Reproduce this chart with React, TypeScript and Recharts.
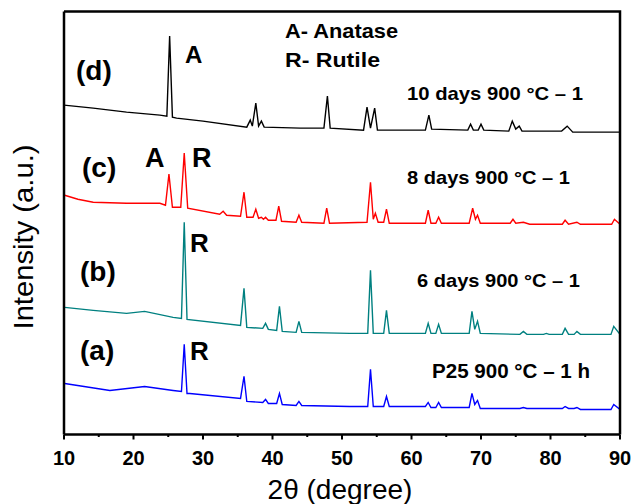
import React from "react";
import { LineChart, Line, XAxis, YAxis } from "recharts";

// 2θ (degree), intensity (a.u.); each trace is offset vertically
const sampleD: [number, number][] = [
  [10.0, 334], [14.2, 331], [19.0, 327], [23.8, 324], [24.8, 323], [25.2, 403], [25.6, 322],
  [26.2, 321], [30.0, 318], [36.3, 312], [36.8, 319], [37.1, 313], [37.6, 336], [38.0, 313],
  [38.4, 318], [38.8, 312], [44.0, 311], [47.4, 311], [47.9, 343], [48.3, 311], [53.1, 309],
  [53.6, 332], [54.1, 311], [54.7, 331], [55.1, 309], [62.0, 309], [62.5, 324], [62.9, 310],
  [68.1, 309], [68.5, 315], [68.9, 309], [69.6, 309], [70.0, 315], [70.4, 309], [74.0, 308],
  [74.5, 318], [75.0, 310], [75.5, 313], [75.9, 308], [81.6, 308], [82.4, 313], [83.2, 307],
  [90.0, 307],
];

const sampleC: [number, number][] = [
  [10.1, 244], [12.0, 240], [14.2, 237], [19.0, 236], [23.8, 236], [24.6, 234], [25.1, 265],
  [25.6, 232], [26.8, 232], [27.3, 286], [27.8, 231], [32.4, 225], [32.9, 228], [33.4, 224],
  [35.4, 223], [35.9, 247], [36.3, 222], [37.2, 222], [37.6, 230], [38.0, 221], [38.4, 222],
  [38.7, 220], [39.0, 222], [39.4, 219], [40.5, 219], [40.9, 233], [41.3, 218], [43.4, 217],
  [43.8, 224], [44.2, 217], [47.4, 216], [47.8, 231], [48.2, 216], [53.6, 217], [54.1, 257],
  [54.5, 220], [54.8, 226], [55.2, 217], [56.0, 217], [56.4, 230], [56.8, 216], [62.0, 216],
  [62.4, 229], [62.8, 216], [63.5, 216], [63.9, 222], [64.3, 216], [68.3, 216], [68.8, 231],
  [69.2, 220], [69.5, 224], [69.9, 216], [74.2, 216], [74.6, 220], [75.0, 216], [76.1, 217],
  [77.0, 215], [81.7, 215], [82.1, 219], [82.6, 215], [83.8, 217], [84.3, 215], [88.8, 215],
  [89.2, 220], [90.0, 215],
];

const sampleB: [number, number][] = [
  [10.1, 132], [14.2, 129], [19.0, 126], [21.6, 128], [25.7, 122], [26.9, 121], [27.3, 217],
  [27.7, 120], [35.4, 114], [35.9, 151], [36.3, 112], [38.6, 111], [39.0, 116], [39.4, 110],
  [40.6, 109], [41.0, 133], [41.4, 108], [43.4, 107], [43.8, 118], [44.2, 107], [51.1, 106],
  [53.7, 106], [54.1, 169], [54.5, 106], [56.0, 106], [56.4, 129], [56.8, 106], [62.0, 106],
  [62.4, 116], [62.8, 106], [63.5, 106], [63.9, 115], [64.3, 106], [68.3, 106], [68.7, 128],
  [69.1, 110], [69.5, 118], [69.9, 106], [75.6, 105], [76.1, 108], [76.6, 105], [79.0, 105],
  [79.4, 106], [79.8, 105], [81.7, 105], [82.1, 111], [82.6, 105], [83.4, 105], [83.8, 108],
  [84.3, 105], [88.7, 105], [89.1, 113], [90.0, 105],
];

const sampleA: [number, number][] = [
  [10.1, 56], [16.6, 49], [21.6, 53], [25.7, 49], [26.9, 48], [27.3, 95], [27.7, 46],
  [28.1, 46], [35.4, 41], [35.9, 63], [36.3, 38], [38.6, 37], [39.0, 40], [39.4, 36],
  [40.6, 36], [41.0, 46], [41.4, 35], [43.4, 34], [43.8, 38], [44.2, 34], [51.1, 33],
  [53.7, 33], [54.1, 70], [54.5, 33], [56.0, 33], [56.4, 43], [56.8, 33], [62.0, 33],
  [62.4, 37], [62.8, 32], [63.5, 32], [63.9, 37], [64.3, 32], [68.3, 32], [68.7, 46],
  [69.1, 35], [69.5, 39], [69.9, 31], [75.6, 31], [76.1, 32], [76.6, 31], [81.7, 31],
  [82.1, 33], [82.6, 31], [83.4, 31], [83.8, 32], [84.3, 30], [88.7, 30], [89.1, 35],
  [90.0, 30],
];

const xTicks = [10, 15, 20, 25, 30, 35, 40, 45, 50, 55, 60, 65, 70, 75, 80, 85, 90];

const FONT = "'Liberation Sans', Arial, sans-serif";

const toRows = (pts: [number, number][]) => pts.map(([x, y]) => ({ x, y }));

const series = [
  { key: "d", data: toRows(sampleD), color: "#000000" },
  { key: "c", data: toRows(sampleC), color: "#ff0000" },
  { key: "b", data: toRows(sampleB), color: "#008080" },
  { key: "a", data: toRows(sampleA), color: "#0000ff" },
];

function AxisTick(props: any) {
  const { x, y, payload } = props;
  const major = payload.value % 10 === 0;
  return (
    <g>
      <line x1={x} x2={x} y1={y} y2={y + (major ? 5 : 2.5)} stroke="#000" strokeWidth={2} />
      {major && (
        <text
          x={x}
          y={y + 30.5}
          textAnchor="middle"
          fontFamily={FONT}
          fontWeight="bold"
          fontSize={20}
          fill="#000"
        >
          {payload.value}
        </text>
      )}
    </g>
  );
}

function Txt(props: {
  x: number;
  y: number;
  size: number;
  len?: number;
  bold?: boolean;
  children: React.ReactNode;
}) {
  const { x, y, size, len, bold = true, children } = props;
  return (
    <text
      x={x}
      y={y}
      fontFamily={FONT}
      fontSize={size}
      fontWeight={bold ? "bold" : "normal"}
      fill="#000"
      textLength={len}
      lengthAdjust={len ? "spacingAndGlyphs" : undefined}
    >
      {children}
    </text>
  );
}

export default function App() {
  return (
    <div style={{ position: "absolute", left: 0, top: 0, width: 633, height: 504, background: "#fff" }}>
      <LineChart
        width={633}
        height={504}
        margin={{ top: 11.5, right: 13, bottom: 0, left: 0 }}
      >
        <XAxis
          dataKey="x"
          type="number"
          domain={[10, 90]}
          ticks={xTicks}
          interval={0}
          height={69.5}
          tickSize={0}
          tickMargin={0}
          tickLine={false}
          tick={<AxisTick />}
          axisLine={{ stroke: "#000", strokeWidth: 2.5 }}
          allowDataOverflow
        />
        <YAxis
          type="number"
          domain={[5, 427.5]}
          width={64}
          tick={false}
          tickLine={false}
          axisLine={{ stroke: "#000", strokeWidth: 2.5 }}
          allowDataOverflow
        />
        {series.map((s) => (
          <Line
            key={s.key}
            data={s.data}
            dataKey="y"
            type="linear"
            stroke={s.color}
            strokeWidth={1.4}
            dot={false}
            activeDot={false}
            isAnimationActive={false}
          />
        ))}
      </LineChart>
      <svg
        width={633}
        height={504}
        style={{ position: "absolute", left: 0, top: 0, pointerEvents: "none" }}
      >
        {/* top and right sides of the frame */}
        <polyline
          points="64,11.5 620,11.5 620,434.5"
          fill="none"
          stroke="#000"
          strokeWidth={2.5}
        />
        <text
          x={33}
          y={237}
          transform="rotate(-90 33 237)"
          textAnchor="middle"
          fontFamily={FONT}
          fontSize={28}
          fill="#000"
          textLength={185}
          lengthAdjust="spacingAndGlyphs"
        >
          Intensity (a.u.)
        </text>
        <text
          x={340}
          y={499}
          textAnchor="middle"
          fontFamily={FONT}
          fontSize={28}
          fill="#000"
        >
          2θ (degree)
        </text>

        <Txt x={285} y={38} size={21} len={113}>A- Anatase</Txt>
        <Txt x={285} y={67} size={21} len={95}>R- Rutile</Txt>

        <Txt x={76} y={80} size={28}>(d)</Txt>
        <Txt x={185} y={63} size={24}>A</Txt>
        <Txt x={407} y={100} size={19} len={176}>10 days 900 °C – 1</Txt>

        <Txt x={82} y={177} size={28}>(c)</Txt>
        <Txt x={145} y={167} size={27}>A</Txt>
        <Txt x={192} y={167} size={27}>R</Txt>
        <Txt x={407} y={184} size={19} len={163}>8 days 900 °C – 1</Txt>

        <Txt x={80} y={281} size={28}>(b)</Txt>
        <Txt x={190} y={252} size={26}>R</Txt>
        <Txt x={417} y={287} size={19} len={163}>6 days 900 °C – 1</Txt>

        <Txt x={80} y={360} size={28}>(a)</Txt>
        <Txt x={190} y={360} size={26}>R</Txt>
        <Txt x={432} y={378} size={21} len={158}>P25 900 °C – 1 h</Txt>
      </svg>
    </div>
  );
}
